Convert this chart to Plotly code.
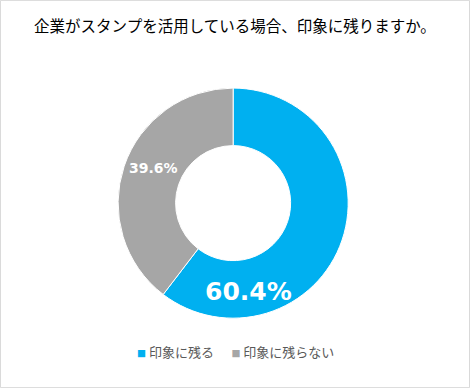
import plotly.graph_objects as go

labels = ["印象に残る", "印象に残らない"]
values = [60.4, 39.6]
colors = ["#00B0F0", "#A6A6A6"]
title = "企業がスタンプを活用している場合、印象に残りますか。"

fig = go.Figure(go.Pie(
    labels=labels, values=values, hole=0.5, sort=False, direction="clockwise",
    rotation=0, marker=dict(colors=colors, line=dict(color="white", width=1)),
    textinfo="none", hoverinfo="label+percent", showlegend=False,
    domain=dict(x=[0.249, 0.743], y=[0.180, 0.773]),
))

fig.add_annotation(x=248/470, y=1-291/388, xref="paper", yref="paper",
                   xanchor="center", yanchor="middle",
                   text=f"{values[0]:.1f}%", showarrow=False,
                   font=dict(family="DejaVu Sans", size=25, color="white", weight="bold"))
fig.add_annotation(x=153/470, y=1-168/388, xref="paper", yref="paper",
                   xanchor="center", yanchor="middle",
                   text=f"{values[1]:.1f}%", showarrow=False,
                   font=dict(family="DejaVu Sans", size=14, color="white", weight="bold"))

legend_text = (f"<span style='color:{colors[0]};font-size:9px'>■</span> {labels[0]}"
               f"      <span style='color:{colors[1]};font-size:9px'>■</span> {labels[1]}")
fig.add_annotation(x=0.5, y=1-351/388, xref="paper", yref="paper", text=legend_text,
                   xanchor="center", yanchor="middle", showarrow=False,
                   font=dict(family="Noto Sans CJK JP", size=13, color="#595959"))

fig.update_layout(
    width=470, height=388, margin=dict(l=0, r=0, t=0, b=0),
    paper_bgcolor="white", plot_bgcolor="white",
    title=dict(text=title, x=0.5, xanchor="center", y=1-27/388, yanchor="middle",
               font=dict(family="Noto Sans CJK JP", size=15.5, color="#000000")),
    shapes=[dict(type="rect", xref="paper", yref="paper", x0=0.001, y0=0.001, x1=0.999, y1=0.999,
                 line=dict(color="#D9D9D9", width=1))],
)
fig.write_html("out.html", config={"displayModeBar": False},
               post_script="document.body.style.margin='0';")
